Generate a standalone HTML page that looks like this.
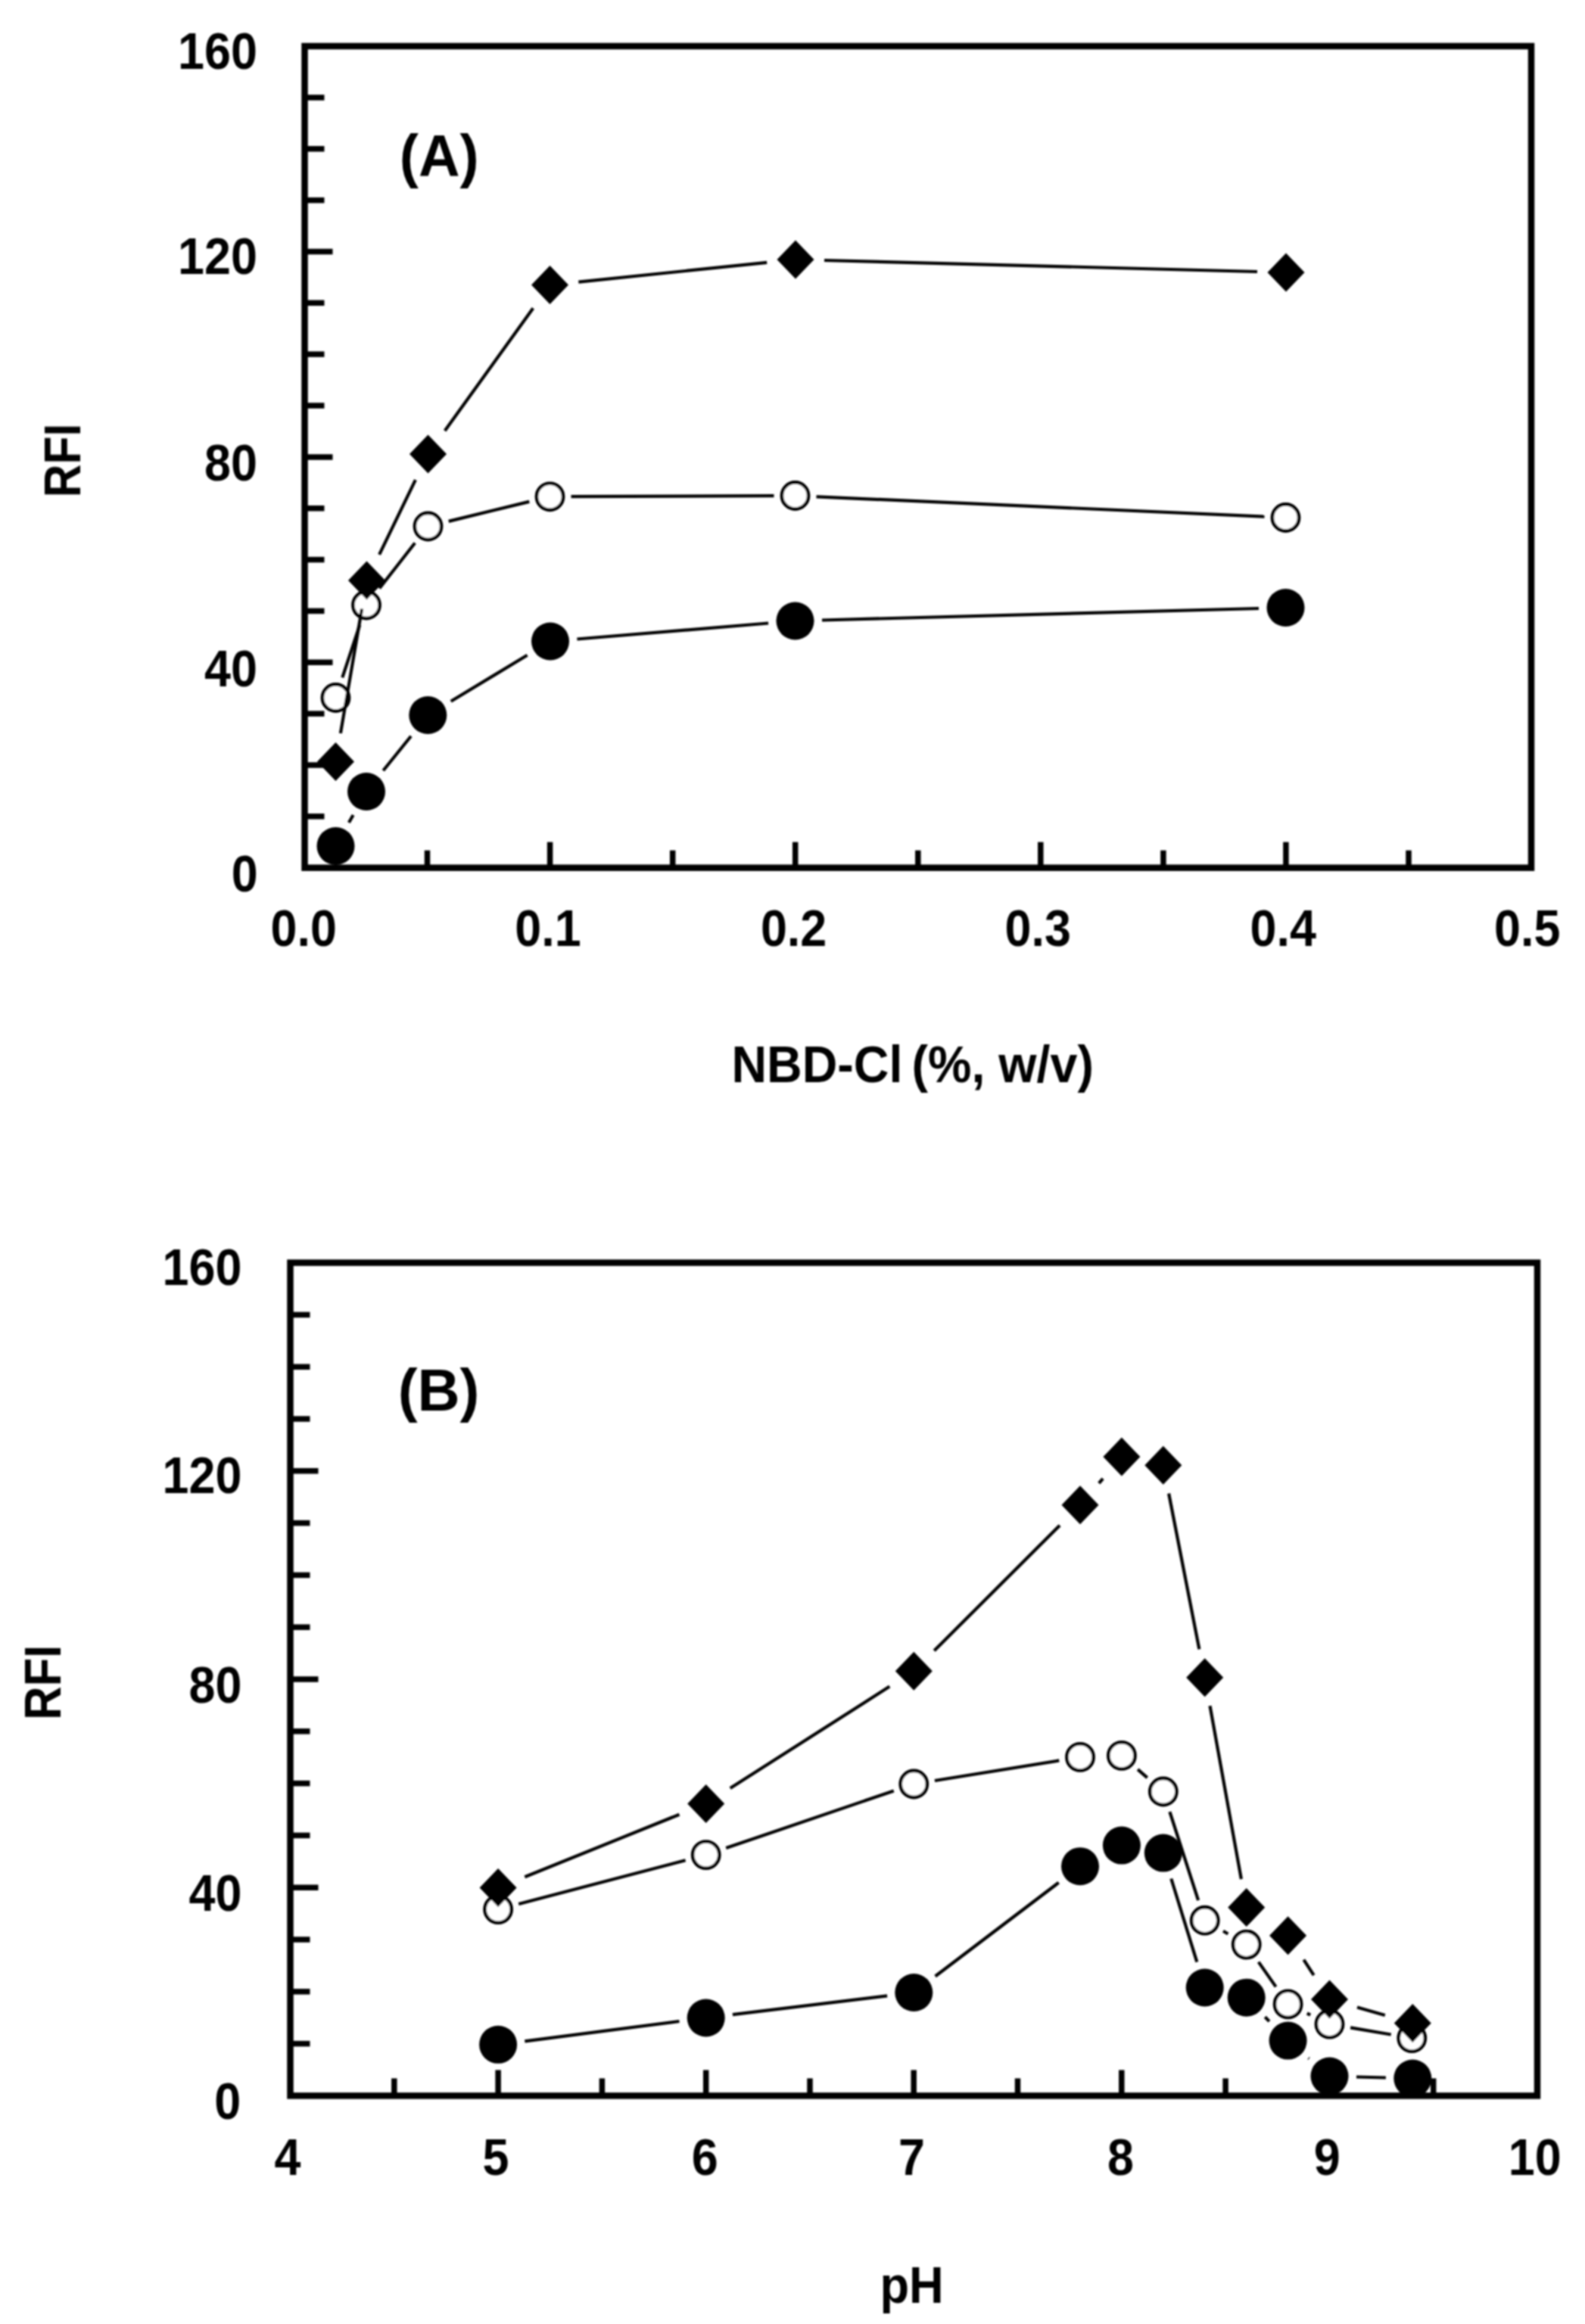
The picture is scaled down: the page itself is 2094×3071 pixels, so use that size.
<!DOCTYPE html><html><head><meta charset="utf-8"><title>Figure</title><style>html,body{margin:0;padding:0;background:#fff}svg{display:block}text{font-family:"Liberation Sans",sans-serif;font-weight:bold;fill:#000}.dl{stroke:#000;stroke-width:4.2;stroke-linecap:butt}.tk{stroke:#000;stroke-width:7.5}.fr{fill:none;stroke:#000;stroke-width:8.5}</style></head><body>
<svg width="2094" height="3071" viewBox="0 0 2094 3071">
<rect width="2094" height="3071" fill="#fff"/>
<defs><filter id="soft" x="0" y="0" width="100%" height="100%" filterUnits="userSpaceOnUse"><feGaussianBlur stdDeviation="1.1"/></filter></defs>
<g filter="url(#soft)">
<clipPath id="clipA"><rect x="402.5" y="61" width="1620.5" height="1085.7"/></clipPath>
<g clip-path="url(#clipA)">
<line class="dl" x1="460.9" y1="1087.1" x2="466.6" y2="1076.9"/>
<line class="dl" x1="506.3" y1="1018.3" x2="543.0" y2="972.7"/>
<line class="dl" x1="595.7" y1="926.7" x2="696.6" y2="865.8"/>
<line class="dl" x1="762.4" y1="844.5" x2="1015.1" y2="823.5"/>
<line class="dl" x1="1086.0" y1="819.5" x2="1663.0" y2="804.0"/>
<circle cx="443.5" cy="1118.0" r="25" fill="#000"/>
<circle cx="484.0" cy="1046.0" r="25" fill="#000"/>
<circle cx="565.3" cy="945.0" r="25" fill="#000"/>
<circle cx="727.0" cy="847.5" r="25" fill="#000"/>
<circle cx="1050.5" cy="820.5" r="25" fill="#000"/>
<circle cx="1698.5" cy="803.0" r="25" fill="#000"/>
<line class="dl" x1="452.3" y1="895.4" x2="475.2" y2="826.1"/>
<line class="dl" x1="501.3" y1="777.5" x2="548.2" y2="717.5"/>
<line class="dl" x1="592.7" y1="688.9" x2="699.3" y2="662.9"/>
<line class="dl" x1="754.5" y1="656.2" x2="1022.5" y2="655.1"/>
<line class="dl" x1="1078.5" y1="656.3" x2="1670.5" y2="682.7"/>
<circle cx="443.5" cy="922.0" r="17.6" fill="#fff" stroke="#000" stroke-width="4.6"/>
<circle cx="484.0" cy="799.5" r="17.6" fill="#fff" stroke="#000" stroke-width="4.6"/>
<circle cx="565.5" cy="695.5" r="17.6" fill="#fff" stroke="#000" stroke-width="4.6"/>
<circle cx="726.5" cy="656.3" r="17.6" fill="#fff" stroke="#000" stroke-width="4.6"/>
<circle cx="1050.5" cy="655.0" r="17.6" fill="#fff" stroke="#000" stroke-width="4.6"/>
<circle cx="1698.5" cy="684.0" r="17.6" fill="#fff" stroke="#000" stroke-width="4.6"/>
<line class="dl" x1="449.9" y1="969.0" x2="478.1" y2="804.5"/>
<line class="dl" x1="501.1" y1="732.8" x2="548.9" y2="634.2"/>
<line class="dl" x1="587.7" y1="569.2" x2="704.3" y2="407.3"/>
<line class="dl" x1="764.3" y1="372.6" x2="1013.2" y2="346.9"/>
<line class="dl" x1="1089.0" y1="344.0" x2="1661.0" y2="359.0"/>
<path d="M443.5 981.0L468.0 1006.5L443.5 1032.0L419.0 1006.5Z" fill="#000"/>
<path d="M484.5 741.5L509.0 767.0L484.5 792.5L460.0 767.0Z" fill="#000"/>
<path d="M565.5 574.5L590.0 600.0L565.5 625.5L541.0 600.0Z" fill="#000"/>
<path d="M726.5 351.0L751.0 376.5L726.5 402.0L702.0 376.5Z" fill="#000"/>
<path d="M1051.0 317.5L1075.5 343.0L1051.0 368.5L1026.5 343.0Z" fill="#000"/>
<path d="M1699.0 334.5L1723.5 360.0L1699.0 385.5L1674.5 360.0Z" fill="#000"/>
</g>
<line class="tk" x1="402.5" y1="1078.8" x2="428.5" y2="1078.8"/>
<line class="tk" x1="402.5" y1="1011.0" x2="428.5" y2="1011.0"/>
<line class="tk" x1="402.5" y1="943.1" x2="428.5" y2="943.1"/>
<line class="tk" x1="402.5" y1="875.3" x2="439.5" y2="875.3"/>
<line class="tk" x1="402.5" y1="807.4" x2="428.5" y2="807.4"/>
<line class="tk" x1="402.5" y1="739.6" x2="428.5" y2="739.6"/>
<line class="tk" x1="402.5" y1="671.7" x2="428.5" y2="671.7"/>
<line class="tk" x1="402.5" y1="603.9" x2="439.5" y2="603.9"/>
<line class="tk" x1="402.5" y1="536.0" x2="428.5" y2="536.0"/>
<line class="tk" x1="402.5" y1="468.1" x2="428.5" y2="468.1"/>
<line class="tk" x1="402.5" y1="400.3" x2="428.5" y2="400.3"/>
<line class="tk" x1="402.5" y1="332.4" x2="439.5" y2="332.4"/>
<line class="tk" x1="402.5" y1="264.6" x2="428.5" y2="264.6"/>
<line class="tk" x1="402.5" y1="196.7" x2="428.5" y2="196.7"/>
<line class="tk" x1="402.5" y1="128.9" x2="428.5" y2="128.9"/>
<line class="tk" x1="564.5" y1="1146.7" x2="564.5" y2="1123.7"/>
<line class="tk" x1="726.6" y1="1146.7" x2="726.6" y2="1112.7"/>
<line class="tk" x1="888.7" y1="1146.7" x2="888.7" y2="1123.7"/>
<line class="tk" x1="1050.7" y1="1146.7" x2="1050.7" y2="1112.7"/>
<line class="tk" x1="1212.8" y1="1146.7" x2="1212.8" y2="1123.7"/>
<line class="tk" x1="1374.8" y1="1146.7" x2="1374.8" y2="1112.7"/>
<line class="tk" x1="1536.9" y1="1146.7" x2="1536.9" y2="1123.7"/>
<line class="tk" x1="1698.9" y1="1146.7" x2="1698.9" y2="1112.7"/>
<line class="tk" x1="1861.0" y1="1146.7" x2="1861.0" y2="1123.7"/>
<rect class="fr" x="402.5" y="61" width="1620.5" height="1085.7"/>
<clipPath id="clipB"><rect x="383.5" y="1668.6" width="1647.5" height="1100.8000000000002"/></clipPath>
<g clip-path="url(#clipB)">
<line class="dl" x1="693.3" y1="2697.3" x2="897.5" y2="2671.0"/>
<line class="dl" x1="967.9" y1="2662.2" x2="1172.1" y2="2637.3"/>
<line class="dl" x1="1235.6" y1="2611.5" x2="1398.7" y2="2487.7"/>
<line class="dl" x1="1547.3" y1="2482.5" x2="1581.3" y2="2592.6"/>
<line class="dl" x1="1671.3" y1="2665.2" x2="1676.9" y2="2671.1"/>
<line class="dl" x1="1728.6" y1="2719.7" x2="1729.5" y2="2720.4"/>
<line class="dl" x1="1792.0" y1="2744.5" x2="1830.9" y2="2745.5"/>
<circle cx="658.1" cy="2701.8" r="25" fill="#000"/>
<circle cx="932.7" cy="2666.5" r="25" fill="#000"/>
<circle cx="1207.3" cy="2633.0" r="25" fill="#000"/>
<circle cx="1427.0" cy="2466.2" r="25" fill="#000"/>
<circle cx="1481.9" cy="2438.6" r="25" fill="#000"/>
<circle cx="1536.8" cy="2448.6" r="25" fill="#000"/>
<circle cx="1591.7" cy="2626.5" r="25" fill="#000"/>
<circle cx="1646.7" cy="2639.7" r="25" fill="#000"/>
<circle cx="1701.6" cy="2696.6" r="25" fill="#000"/>
<circle cx="1756.5" cy="2743.5" r="25" fill="#000"/>
<circle cx="1866.3" cy="2746.5" r="25" fill="#000"/>
<line class="dl" x1="685.2" y1="2516.0" x2="905.6" y2="2458.2"/>
<line class="dl" x1="959.2" y1="2442.1" x2="1180.8" y2="2366.5"/>
<line class="dl" x1="1234.9" y1="2353.0" x2="1399.3" y2="2326.4"/>
<line class="dl" x1="1503.1" y1="2338.2" x2="1515.7" y2="2349.2"/>
<line class="dl" x1="1545.4" y1="2394.1" x2="1583.1" y2="2511.1"/>
<line class="dl" x1="1616.0" y1="2551.8" x2="1622.4" y2="2555.5"/>
<line class="dl" x1="1662.7" y1="2592.6" x2="1685.6" y2="2625.4"/>
<line class="dl" x1="1726.8" y1="2660.5" x2="1731.2" y2="2662.6"/>
<line class="dl" x1="1784.1" y1="2679.4" x2="1837.7" y2="2688.5"/>
<circle cx="658.1" cy="2523.1" r="17.6" fill="#fff" stroke="#000" stroke-width="4.6"/>
<circle cx="932.7" cy="2451.1" r="17.6" fill="#fff" stroke="#000" stroke-width="4.6"/>
<circle cx="1207.3" cy="2357.5" r="17.6" fill="#fff" stroke="#000" stroke-width="4.6"/>
<circle cx="1427.0" cy="2321.9" r="17.6" fill="#fff" stroke="#000" stroke-width="4.6"/>
<circle cx="1481.9" cy="2319.9" r="17.6" fill="#fff" stroke="#000" stroke-width="4.6"/>
<circle cx="1536.8" cy="2367.5" r="17.6" fill="#fff" stroke="#000" stroke-width="4.6"/>
<circle cx="1591.7" cy="2537.7" r="17.6" fill="#fff" stroke="#000" stroke-width="4.6"/>
<circle cx="1646.7" cy="2569.6" r="17.6" fill="#fff" stroke="#000" stroke-width="4.6"/>
<circle cx="1701.6" cy="2648.4" r="17.6" fill="#fff" stroke="#000" stroke-width="4.6"/>
<circle cx="1756.5" cy="2674.7" r="17.6" fill="#fff" stroke="#000" stroke-width="4.6"/>
<circle cx="1865.3" cy="2693.2" r="17.6" fill="#fff" stroke="#000" stroke-width="4.6"/>
<line class="dl" x1="693.3" y1="2480.2" x2="897.5" y2="2397.7"/>
<line class="dl" x1="964.7" y1="2363.1" x2="1175.3" y2="2228.6"/>
<line class="dl" x1="1234.2" y1="2181.3" x2="1400.1" y2="2015.7"/>
<line class="dl" x1="1451.8" y1="1960.0" x2="1457.1" y2="1953.9"/>
<line class="dl" x1="1544.1" y1="1973.5" x2="1584.4" y2="2179.4"/>
<line class="dl" x1="1598.5" y1="2254.1" x2="1639.9" y2="2483.2"/>
<line class="dl" x1="1722.4" y1="2589.6" x2="1735.7" y2="2610.1"/>
<line class="dl" x1="1793.0" y1="2652.4" x2="1829.8" y2="2662.9"/>
<path d="M658.1 2468.9L682.6 2494.4L658.1 2519.9L633.6 2494.4Z" fill="#000"/>
<path d="M932.7 2358.0L957.2 2383.5L932.7 2409.0L908.2 2383.5Z" fill="#000"/>
<path d="M1207.3 2182.7L1231.8 2208.2L1207.3 2233.7L1182.8 2208.2Z" fill="#000"/>
<path d="M1427.0 1963.3L1451.5 1988.8L1427.0 2014.3L1402.5 1988.8Z" fill="#000"/>
<path d="M1481.9 1899.6L1506.4 1925.1L1481.9 1950.6L1457.4 1925.1Z" fill="#000"/>
<path d="M1536.8 1910.7L1561.3 1936.2L1536.8 1961.7L1512.3 1936.2Z" fill="#000"/>
<path d="M1591.7 2191.2L1616.2 2216.7L1591.7 2242.2L1567.2 2216.7Z" fill="#000"/>
<path d="M1646.7 2495.1L1671.2 2520.6L1646.7 2546.1L1622.2 2520.6Z" fill="#000"/>
<path d="M1701.6 2532.3L1726.1 2557.8L1701.6 2583.3L1677.1 2557.8Z" fill="#000"/>
<path d="M1756.5 2616.4L1781.0 2641.9L1756.5 2667.4L1732.0 2641.9Z" fill="#000"/>
<path d="M1866.3 2647.9L1890.8 2673.4L1866.3 2698.9L1841.8 2673.4Z" fill="#000"/>
</g>
<line class="tk" x1="383.5" y1="2700.6" x2="409.5" y2="2700.6"/>
<line class="tk" x1="383.5" y1="2631.8" x2="409.5" y2="2631.8"/>
<line class="tk" x1="383.5" y1="2563.0" x2="409.5" y2="2563.0"/>
<line class="tk" x1="383.5" y1="2494.2" x2="420.5" y2="2494.2"/>
<line class="tk" x1="383.5" y1="2425.4" x2="409.5" y2="2425.4"/>
<line class="tk" x1="383.5" y1="2356.6" x2="409.5" y2="2356.6"/>
<line class="tk" x1="383.5" y1="2287.8" x2="409.5" y2="2287.8"/>
<line class="tk" x1="383.5" y1="2219.0" x2="420.5" y2="2219.0"/>
<line class="tk" x1="383.5" y1="2150.2" x2="409.5" y2="2150.2"/>
<line class="tk" x1="383.5" y1="2081.4" x2="409.5" y2="2081.4"/>
<line class="tk" x1="383.5" y1="2012.6" x2="409.5" y2="2012.6"/>
<line class="tk" x1="383.5" y1="1943.8" x2="420.5" y2="1943.8"/>
<line class="tk" x1="383.5" y1="1875.0" x2="409.5" y2="1875.0"/>
<line class="tk" x1="383.5" y1="1806.2" x2="409.5" y2="1806.2"/>
<line class="tk" x1="383.5" y1="1737.4" x2="409.5" y2="1737.4"/>
<line class="tk" x1="520.8" y1="2769.4" x2="520.8" y2="2746.4"/>
<line class="tk" x1="658.1" y1="2769.4" x2="658.1" y2="2735.4"/>
<line class="tk" x1="795.4" y1="2769.4" x2="795.4" y2="2746.4"/>
<line class="tk" x1="932.7" y1="2769.4" x2="932.7" y2="2735.4"/>
<line class="tk" x1="1070.0" y1="2769.4" x2="1070.0" y2="2746.4"/>
<line class="tk" x1="1207.2" y1="2769.4" x2="1207.2" y2="2735.4"/>
<line class="tk" x1="1344.5" y1="2769.4" x2="1344.5" y2="2746.4"/>
<line class="tk" x1="1481.8" y1="2769.4" x2="1481.8" y2="2735.4"/>
<line class="tk" x1="1619.1" y1="2769.4" x2="1619.1" y2="2746.4"/>
<line class="tk" x1="1756.4" y1="2769.4" x2="1756.4" y2="2735.4"/>
<line class="tk" x1="1893.7" y1="2769.4" x2="1893.7" y2="2746.4"/>
<rect class="fr" x="383.5" y="1668.6" width="1647.5" height="1100.8000000000002"/>
<text transform="translate(235.10 90.50) scale(0.9250 1)" font-size="68">160</text>
<text transform="translate(235.10 361.50) scale(0.9250 1)" font-size="68">120</text>
<text transform="translate(270.10 634.50) scale(0.9250 1)" font-size="68">80</text>
<text transform="translate(270.10 906.50) scale(0.9250 1)" font-size="68">40</text>
<text transform="translate(305.70 1178.00) scale(0.9250 1)" font-size="68">0</text>
<text transform="translate(106.00 657.33) rotate(-90) scale(0.8920 1)" font-size="68">RFI</text>
<text transform="translate(527.83 233.00) scale(0.9688 1)" font-size="78">(A)</text>
<text transform="translate(357.60 1250.00) scale(0.9250 1)" font-size="68">0.0</text>
<text transform="translate(680.20 1250.00) scale(0.9250 1)" font-size="68">0.1</text>
<text transform="translate(1004.90 1250.00) scale(0.9250 1)" font-size="68">0.2</text>
<text transform="translate(1327.60 1250.00) scale(0.9250 1)" font-size="68">0.3</text>
<text transform="translate(1651.50 1250.00) scale(0.9250 1)" font-size="68">0.4</text>
<text transform="translate(1974.00 1250.00) scale(0.9250 1)" font-size="68">0.5</text>
<text transform="translate(966.40 1429.50) scale(0.9496 1)" font-size="68">NBD-Cl<tspan dx="-6"> (%, w/v)</tspan></text>
<text transform="translate(214.50 1698.00) scale(0.9250 1)" font-size="68">160</text>
<text transform="translate(214.50 1973.00) scale(0.9250 1)" font-size="68">120</text>
<text transform="translate(249.50 2250.00) scale(0.9250 1)" font-size="68">80</text>
<text transform="translate(249.50 2525.00) scale(0.9250 1)" font-size="68">40</text>
<text transform="translate(283.20 2800.00) scale(0.9250 1)" font-size="68">0</text>
<text transform="translate(525.69 1864.00) scale(0.9956 1)" font-size="78">(B)</text>
<text transform="translate(80.00 2272.89) rotate(-90) scale(0.9060 1)" font-size="68">RFI</text>
<text transform="translate(362.60 2874.00) scale(0.9250 1)" font-size="68">4</text>
<text transform="translate(637.60 2874.00) scale(0.9250 1)" font-size="68">5</text>
<text transform="translate(913.80 2874.00) scale(0.9250 1)" font-size="68">6</text>
<text transform="translate(1186.90 2874.00) scale(0.9250 1)" font-size="68">7</text>
<text transform="translate(1462.90 2874.00) scale(0.9250 1)" font-size="68">8</text>
<text transform="translate(1735.80 2874.00) scale(0.9250 1)" font-size="68">9</text>
<text transform="translate(1992.70 2874.00) scale(0.9250 1)" font-size="68">10</text>
<text transform="translate(1162.47 3043.00) scale(0.9302 1)" font-size="68">pH</text>
</g>
</svg></body></html>
